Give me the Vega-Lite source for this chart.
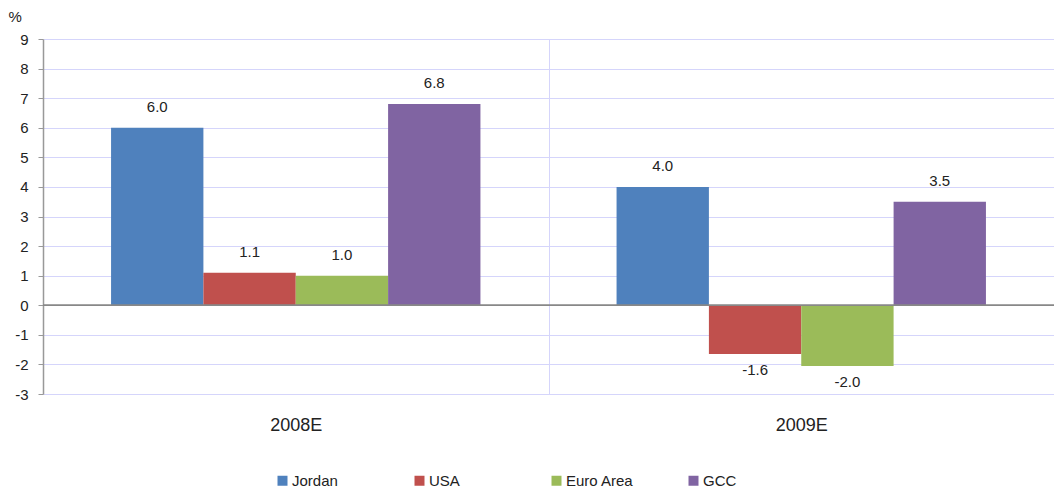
{
  "$schema": "https://vega.github.io/schema/vega-lite/v6.json",
  "autosize": {"type": "none"},
  "width": 1011,
  "height": 355,
  "padding": {"left": 43, "top": 39, "right": 0, "bottom": 99},
  "background": "white",
  "config": {
    "view": {"stroke": null},
    "font": "Liberation Sans",
    "axis": {"labelFont": "Liberation Sans", "titleFont": "Liberation Sans"}
  },
  "data": {
    "values": [
      {"year": "2008E", "series": "Jordan", "value": 6.0},
      {"year": "2008E", "series": "USA", "value": 1.1},
      {"year": "2008E", "series": "Euro Area", "value": 1.0},
      {"year": "2008E", "series": "GCC", "value": 6.8},
      {"year": "2009E", "series": "Jordan", "value": 4.0},
      {"year": "2009E", "series": "USA", "value": -1.65},
      {"year": "2009E", "series": "Euro Area", "value": -2.05},
      {"year": "2009E", "series": "GCC", "value": 3.5}
    ]
  },
  "encoding": {
    "x": {
      "field": "year", "type": "nominal",
      "scale": {"paddingInner": 0, "paddingOuter": 0},
      "axis": {
        "title": null, "labelAngle": 0, "labelFontSize": 18, "labelColor": "#222",
        "labelPadding": 22, "domain": false, "ticks": false,
        "grid": true, "tickBand": "extent", "gridColor": "#d5d5fb", "gridWidth": 1
      }
    },
    "xOffset": {
      "field": "series", "type": "nominal",
      "sort": ["Jordan", "USA", "Euro Area", "GCC"],
      "scale": {"paddingInner": 0, "paddingOuter": 0.737}
    },
    "y": {
      "field": "value", "type": "quantitative",
      "scale": {"domain": [-3, 9], "nice": false, "zero": false},
      "axis": {
        "values": [-3, -2, -1, 0, 1, 2, 3, 4, 5, 6, 7, 8, 9],
        "tickCount": 30,
        "format": "d",
        "labelOverlap": false,
        "labelExpr": "replace(datum.label, '\u2212', '-')",
        "title": "%", "titleAngle": 0, "titleAlign": "left", "titleBaseline": "middle",
        "titleX": -35, "titleY": -23, "titleFontSize": 15, "titleFontWeight": "normal", "titleColor": "#222",
        "labelFontSize": 15, "labelColor": "#222", "labelPadding": 10,
        "domainColor": "#999", "domainWidth": 1.5, "tickColor": "#999", "tickSize": 5,
        "gridColor": "#d5d5fb", "gridWidth": 1
      }
    }
  },
  "layer": [
    {
      "mark": {"type": "bar"},
      "encoding": {
        "color": {
          "field": "series", "type": "nominal",
          "sort": ["Jordan", "USA", "Euro Area", "GCC"],
          "scale": {"domain": ["Jordan", "USA", "Euro Area", "GCC"], "range": ["#4F81BD", "#C0504D", "#9BBB59", "#8064A2"]},
          "legend": {
            "title": null, "orient": "none", "legendX": 232, "legendY": 434,
            "direction": "horizontal", "columns": 4, "gridAlign": "all",
            "columnPadding": 52, "symbolType": "square", "symbolSize": 100,
            "symbolStrokeWidth": 0, "labelFontSize": 15, "labelColor": "#222", "labelOffset": 2
          }
        }
      }
    },
    {
      "transform": [{"filter": "datum.value >= 0"}],
      "mark": {"type": "text", "dy": -21, "fontSize": 15, "color": "#222", "text": {"expr": "replace(format(datum.value, '.1f'), '\u2212', '-')"}},
      "encoding": {}
    },
    {
      "transform": [{"filter": "datum.value < 0"}],
      "mark": {"type": "text", "dy": 16, "fontSize": 15, "color": "#222", "text": {"expr": "replace(format(datum.value, '.1f'), '\u2212', '-')"}},
      "encoding": {}
    },
    {
      "transform": [{"filter": "datum.series == 'Jordan'"}],
      "mark": {"type": "rule", "color": "#888", "strokeWidth": 1.5},
      "encoding": {"x": {"value": 0}, "x2": {"value": 1011}, "xOffset": null, "y": {"datum": 0}}
    }
  ]
}
